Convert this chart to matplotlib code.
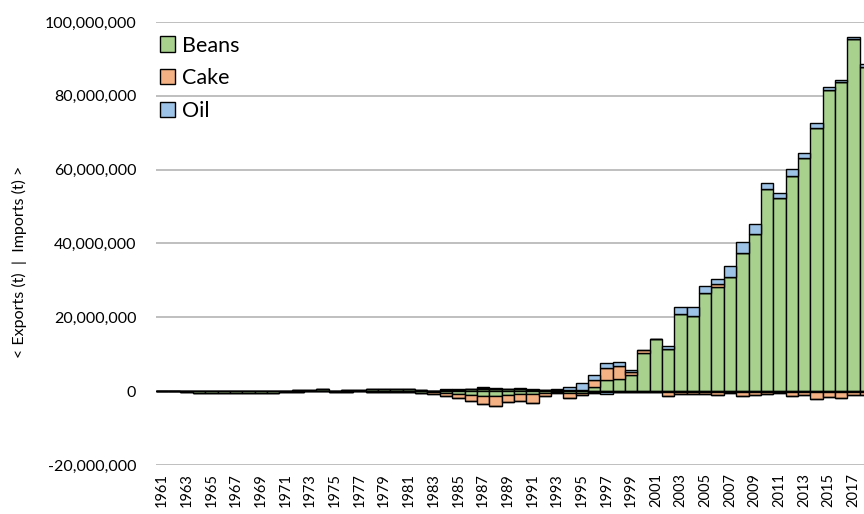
import numpy as np
import matplotlib.pyplot as plt
from matplotlib.ticker import FuncFormatter

# years shown (last bar is clipped by the right edge, as in the original)
years = list(range(1961, 2019))

# imports (t), millions
beans_imp = [0.1, 0.1, 0, 0, 0, 0, 0, 0, 0, 0,
             0, 0.2, 0.3, 0.6, 0.1, 0.2, 0.4, 0.5, 0.6, 0.6,
             0.5, 0.3, 0.1, 0.4, 0.4, 0.6, 0.7, 0.6, 0.5, 0.7,
             0.4, 0.3, 0.2, 0.2, 0.3, 1.2, 3.0, 3.2, 4.3, 10.4,
             14.1, 11.4, 20.8, 20.3, 26.6, 28.3, 30.8, 37.5, 42.5, 54.7,
             52.4, 58.3, 63.1, 71.2, 81.6, 83.7, 95.3, 87.9]
cake_imp = [0, 0, 0, 0, 0, 0, 0, 0, 0, 0,
            0, 0, 0, 0, 0, 0, 0, 0, 0, 0,
            0, 0, 0, 0, 0, 0, 0.1, 0, 0, 0,
            0, 0, 0, 0, 0, 1.8, 3.3, 3.7, 0.9, 0.7,
            0, 0, 0, 0, 0, 0.7, 0, 0, 0, 0,
            0, 0, 0, 0, 0, 0, 0, 0]
oil_imp = [0, 0, 0, 0, 0, 0, 0, 0, 0, 0,
           0, 0, 0, 0, 0, 0, 0, 0, 0, 0,
           0, 0, 0, 0.1, 0.1, 0.1, 0.2, 0.2, 0.2, 0.1,
           0.1, 0.1, 0.3, 0.9, 1.8, 1.5, 1.35, 0.9, 0.6, 0.1,
           0, 0.9, 1.9, 2.6, 1.9, 1.5, 3.1, 2.8, 2.7, 1.6,
           1.3, 1.9, 1.3, 1.3, 0.7, 0.6, 0.7, 0.6]

# exports (t), millions, negative
beans_exp = [0, 0, -0.1, -0.4, -0.4, -0.4, -0.4, -0.4, -0.4, -0.4,
             -0.3, -0.1, 0, 0, -0.2, -0.1, 0, -0.1, -0.3, -0.1,
             -0.2, -0.4, -0.3, -0.6, -0.9, -1.1, -1.2, -1.2, -1.0, -0.9,
             -0.9, -0.5, -0.3, -0.5, -0.5, -0.3, -0.1, -0.1, -0.1, -0.2,
             -0.3, -0.3, -0.2, -0.2, -0.3, -0.2, -0.2, -0.2, -0.2, -0.2,
             -0.3, -0.2, -0.2, -0.2, -0.2, -0.2, -0.2, -0.2]
cake_exp = [0, 0, 0, 0, 0, 0, 0, 0, 0, 0,
            0, 0, 0, 0, 0, 0, 0, 0, 0, 0,
            0, 0, -0.5, -0.8, -0.9, -1.6, -2.4, -2.8, -1.9, -1.8,
            -2.3, -0.8, -0.1, -1.3, -0.6, -0.1, 0, 0, 0, -0.1,
            0, -1.0, -0.7, -0.7, -0.6, -0.9, -0.3, -1.1, -0.8, -0.6,
            -0.1, -1.0, -0.8, -2.0, -1.5, -1.7, -0.8, -0.8]
oil_exp = [0, 0, 0, 0, 0, 0, 0, 0, 0, 0,
           0, 0, 0, 0, 0, 0, 0, 0, 0, 0,
           0, 0, 0, 0, 0, 0, 0, 0, 0, 0,
           0, 0, 0, 0, 0, 0, -0.6, 0, 0, 0,
           0, 0, 0, 0, 0, 0, 0, 0, 0, 0,
           0, 0, 0, 0, 0, 0, 0, 0]

GREEN = "#A9D18E"
ORANGE = "#F4B183"
BLUE = "#9DC3E6"

plt.rcParams['font.family'] = ['Lato', 'DejaVu Sans']

M = 1e6
x = np.arange(len(years))
bi, ci, oi = (np.array(v) * M for v in (beans_imp, cake_imp, oil_imp))
be, ce, oe = (np.array(v) * M for v in (beans_exp, cake_exp, oil_exp))

fig = plt.figure(figsize=(8.64, 5.14), dpi=100)
ax = fig.add_axes([0.1803, 0.0953, 0.829, 0.862])

kw = dict(width=1.0, edgecolor="black", linewidth=1.0, zorder=3)
ax.bar(x, bi, color=GREEN, label="Beans", **kw)
ax.bar(x, ci, bottom=bi, color=ORANGE, label="Cake", **kw)
ax.bar(x, oi, bottom=bi + ci, color=BLUE, label="Oil", **kw)
ax.bar(x, be, color=GREEN, **kw)
ax.bar(x, ce, bottom=be, color=ORANGE, **kw)
ax.bar(x, oe, bottom=be + ce, color=BLUE, **kw)

ax.set_xlim(-0.5, len(years) - 0.5)
ax.set_ylim(-20 * M, 100 * M)
ax.set_yticks(np.arange(-20, 101, 20) * M)
ax.yaxis.set_major_formatter(FuncFormatter(lambda v, p: f"{v:,.0f}"))
ax.grid(axis="y", color="#B4B4B4", linewidth=1.2, zorder=0)
ax.set_axisbelow(True)

ax.set_xticks(x[::2])
ax.set_xticklabels([str(y) for y in years[::2]], rotation=90, fontsize=10.5)
ax.tick_params(axis="y", labelsize=11.5, length=0, pad=14)
ax.tick_params(axis="x", length=0, pad=6)
for s in ax.spines.values():
    s.set_visible(False)

fig.text(0.022, 0.49, "< Exports (t)  |  Imports (t) >", rotation=90,
         ha="center", va="center", fontsize=11.5)

leg = ax.legend(loc="upper left", frameon=False, fontsize=15.5,
                handlelength=0.7, handleheight=0.7, handletextpad=0.3,
                labelspacing=0.6, borderaxespad=0.0, borderpad=0.2,
                bbox_to_anchor=(0.0, 0.979))

fig.savefig("out.png", dpi=100)
